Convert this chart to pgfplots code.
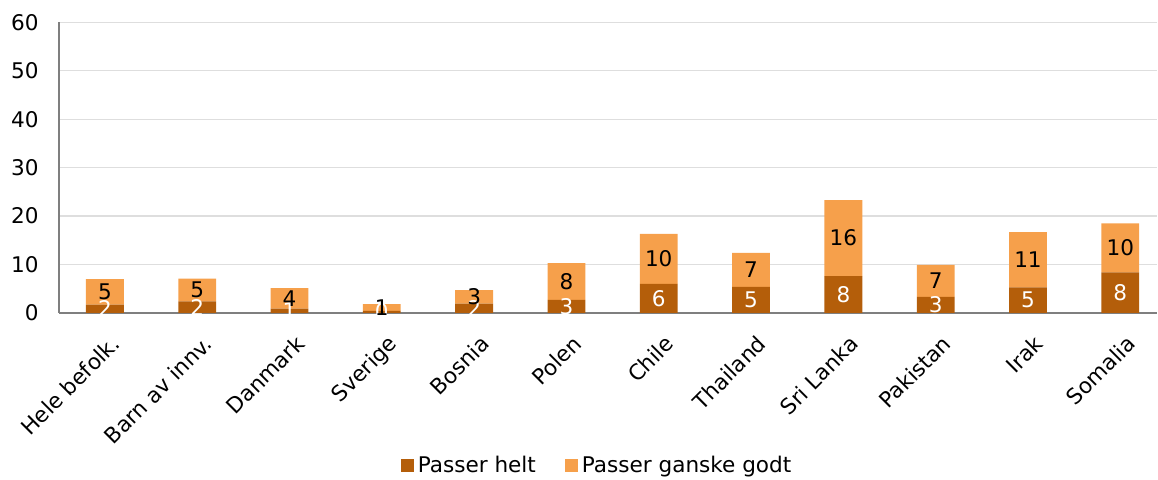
\documentclass[border=0pt]{standalone}
\usepackage{pgfplots}
\usepackage{pgfplotstable}
\pgfplotsset{compat=1.18}
\usepackage{fontspec}
\setmainfont{DejaVu Sans}
\definecolor{darkor}{HTML}{B45E0A}
\definecolor{lightor}{HTML}{F6A04B}
\definecolor{gridc}{HTML}{DEDEDE}
\definecolor{axc}{HTML}{7F7F7F}

\pgfplotstableread{
x helt godt midh midg labh labg
0 1.7 5.3 0.85 4.35 2 5
1 2.4 4.7 1.2 4.75 2 5
2 0.9 4.2 0.45 3.0 1 4
3 0.4 1.4 0.2 1.1 0 1
4 1.9 2.8 0.95 3.3 2 3
5 2.7 7.6 1.35 6.5 3 8
6 6.0 10.3 3.0 11.15 6 10
7 5.4 7.0 2.7 8.9 5 7
8 7.6 15.7 3.8 15.45 8 16
9 3.3 6.6 1.65 6.6 3 7
10 5.3 11.4 2.65 11.0 5 11
11 8.4 10.1 4.2 13.45 8 10
}\data

\pgfplotsset{
  common/.style={
    scale only axis,
    width=550pt, height=145.5pt,
    xmin=-0.5, xmax=11.4,
    ymin=0, ymax=60,
  }
}

\begin{document}
\fontsize{10.8}{13}\selectfont
\begin{tikzpicture}
\begin{axis}[
  common,
  ybar stacked,
  bar width=0.41,
  axis x line*=bottom,
  axis y line*=left,
  x axis line style={axc, line width=0.8pt, -},
  y axis line style={axc, line width=1pt, -},
  ytick={0,10,...,60},
  ymajorgrids,
  grid style={gridc, line width=0.6pt},
  ytick style={draw=none},
  yticklabel style={xshift=-2pt},
  xtick={0,...,11},
  xticklabels={Hele befolk.,Barn av innv.,Danmark,Sverige,Bosnia,Polen,Chile,Thailand,Sri Lanka,Pakistan,Irak,Somalia},
  xtick style={draw=none},
  xticklabel style={rotate=45, anchor=north east, inner sep=1pt, xshift=-1.5pt, yshift=-5pt},
  minor xtick={-0.5,0.5,...,10.5},
  minor x tick style={axc, line width=0.8pt},
  minor tick length=3.5pt,
  tick align=outside,
  /pgf/number format/assume math mode=true,
  legend columns=2,
  legend style={draw=none, inner sep=0pt, at={(0.491,0)}, anchor=center, yshift=-76.5pt,
    /tikz/every even column/.append style={column sep=12.5pt}},
  legend image code/.code={\fill[#1] (0pt,-3.2pt) rectangle (6.5pt,3.3pt);},
]
\addplot[fill=darkor, draw=none] table[x=x, y=helt] {\data};
\addlegendentry{Passer helt}
\addplot[fill=lightor, draw=none] table[x=x, y=godt] {\data};
\addlegendentry{Passer ganske godt}
\end{axis}
\begin{axis}[
  common,
  axis lines=none,
  nodes near coords,
  point meta=explicit symbolic,
  every node near coord/.append style={anchor=center, inner sep=0pt},
]
\addplot[draw=none, mark=none, nodes near coords style={white}] table[x=x, y=midh, meta=labh] {\data};
\addplot[draw=none, mark=none, nodes near coords style={black}] table[x=x, y=midg, meta=labg] {\data};
\end{axis}
\path ([yshift=3.5pt]current bounding box.north);
\path ([xshift=-2pt]current bounding box.west);
\end{tikzpicture}
\end{document}
